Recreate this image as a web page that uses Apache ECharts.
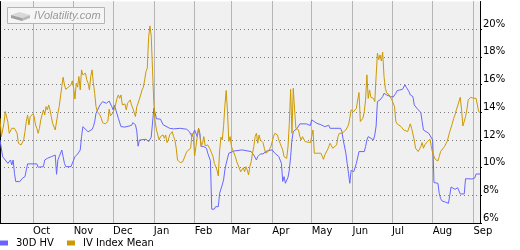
<!DOCTYPE html>
<html>
<head>
<meta charset="utf-8">
<script src="https://cdn.jsdelivr.net/npm/echarts@6/dist/echarts.min.js"></script>
<style>
  html, body { margin: 0; padding: 0; background: #ffffff; }
  #chart { width: 520px; height: 250px; }
</style>
</head>
<body>
<div id="chart"></div>
<script>
// ---- Data ----
const startDate = '2010-09-06';
const endDate = '2011-09-06';
const monthNames = ['Jan','Feb','Mar','Apr','May','Jun','Jul','Aug','Sep','Oct','Nov','Dec'];
const yTicks = [6, 8, 10, 12, 14, 16, 18, 20];
const seriesNames = ['30D HV', 'IV Index Mean'];

const hvDates = ['2010-09-06','2010-09-07','2010-09-08','2010-09-10','2010-09-12','2010-09-14','2010-09-15','2010-09-16','2010-09-17','2010-09-18','2010-09-21','2010-09-23','2010-09-25','2010-09-26','2010-09-27','2010-10-04','2010-10-05','2010-10-09','2010-10-10','2010-10-12','2010-10-15','2010-10-16','2010-10-18','2010-10-19','2010-10-20','2010-10-21','2010-10-23','2010-10-24','2010-10-25','2010-10-26','2010-10-30','2010-10-31','2010-11-02','2010-11-04','2010-11-06','2010-11-07','2010-11-08','2010-11-09','2010-11-12','2010-11-15','2010-11-16','2010-11-17','2010-11-18','2010-11-21','2010-11-23','2010-11-26','2010-11-28','2010-11-30','2010-12-01','2010-12-02','2010-12-05','2010-12-07','2010-12-10','2010-12-15','2010-12-16','2010-12-18','2010-12-19','2010-12-20','2010-12-21','2010-12-26','2010-12-28','2010-12-30','2011-01-01','2011-01-03','2011-01-06','2011-01-08','2011-01-09','2011-01-13','2011-01-16','2011-01-21','2011-01-26','2011-01-28','2011-01-30','2011-01-31','2011-02-01','2011-02-03','2011-02-04','2011-02-05','2011-02-06','2011-02-08','2011-02-10','2011-02-11','2011-02-13','2011-02-14','2011-02-16','2011-02-17','2011-02-19','2011-02-20','2011-02-22','2011-02-23','2011-02-24','2011-02-25','2011-02-27','2011-02-28','2011-03-03','2011-03-09','2011-03-16','2011-03-18','2011-03-20','2011-03-21','2011-03-23','2011-03-25','2011-03-27','2011-03-29','2011-04-01','2011-04-02','2011-04-03','2011-04-04','2011-04-06','2011-04-07','2011-04-08','2011-04-09','2011-04-10','2011-04-11','2011-04-12','2011-04-13','2011-04-14','2011-04-15','2011-04-16','2011-04-17','2011-04-20','2011-04-21','2011-04-22','2011-04-27','2011-04-30','2011-05-01','2011-05-02','2011-05-05','2011-05-08','2011-05-11','2011-05-14','2011-05-15','2011-05-16','2011-05-23','2011-05-24','2011-05-25','2011-05-27','2011-05-28','2011-05-29','2011-05-30','2011-05-31','2011-06-02','2011-06-03','2011-06-04','2011-06-06','2011-06-07','2011-06-10','2011-06-11','2011-06-12','2011-06-13','2011-06-15','2011-06-17','2011-06-18','2011-06-19','2011-06-20','2011-06-22','2011-06-24','2011-06-25','2011-06-27','2011-06-30','2011-07-02','2011-07-04','2011-07-05','2011-07-07','2011-07-09','2011-07-11','2011-07-12','2011-07-14','2011-07-15','2011-07-17','2011-07-18','2011-07-20','2011-07-23','2011-07-24','2011-07-25','2011-07-29','2011-07-30','2011-08-01','2011-08-02','2011-08-05','2011-08-06','2011-08-07','2011-08-08','2011-08-11','2011-08-13','2011-08-14','2011-08-15','2011-08-16','2011-08-18','2011-08-20','2011-08-21','2011-08-22','2011-08-25','2011-08-26','2011-08-31','2011-09-02','2011-09-03','2011-09-06'];
const hvValues = [12.0,11.88,10.79,10.55,10.31,10.55,10.19,10.55,9.59,8.99,8.99,9.23,9.35,9.83,10.27,10.27,10.03,10.07,10.55,10.67,10.79,10.67,10.91,9.52,10.55,10.79,11.27,10.79,10.31,10.07,10.07,10.19,10.79,10.98,11.27,12.23,12.96,12.84,12.59,12.76,12.96,13.32,13.92,14.52,14.76,14.65,14.81,14.41,14.17,14.52,13.56,12.96,12.93,13.05,13.25,13.1,12.65,11.55,11.99,12.05,11.88,12.2,14.3,13.53,13.5,13.1,12.96,12.84,12.8,12.84,12.77,12.6,12.24,12.36,12.72,12.24,12.84,12.48,11.52,11.52,11.4,11.04,10.5,7.0,7.0,7.18,7.18,8.14,8.75,9.1,9.83,10.3,11.04,11.16,11.2,11.28,11.16,10.9,10.55,10.8,10.99,10.99,11.16,11.23,11.28,11.28,11.04,10.92,10.8,10.67,10.31,9.0,9.35,8.87,8.75,9.3,9.83,10.8,12.0,12.6,12.84,13.0,13.16,13.16,13.04,13.45,13.33,13.2,13.1,12.96,13.06,12.84,12.88,12.84,12.6,12.0,11.04,10.31,9.59,8.87,9.8,9.71,9.83,10.31,11.16,11.23,11.16,11.52,12.0,12.24,12.12,12.0,12.36,13.0,14.77,14.89,15.13,15.37,15.25,15.13,15.1,15.37,15.56,15.61,15.65,15.98,15.8,15.49,15.25,15.13,14.53,14.29,13.98,13.33,12.72,12.48,12.36,12.0,8.92,8.87,8.14,7.78,7.6,7.5,7.42,8.0,8.6,8.51,8.43,8.55,8.5,8.1,8.1,9.2,9.18,9.25,9.54,9.54];

const ivDates = ['2010-09-06','2010-09-07','2010-09-09','2010-09-10','2010-09-11','2010-09-12','2010-09-13','2010-09-15','2010-09-17','2010-09-19','2010-09-20','2010-09-22','2010-09-24','2010-09-25','2010-09-26','2010-09-27','2010-09-28','2010-09-29','2010-09-30','2010-10-01','2010-10-02','2010-10-03','2010-10-04','2010-10-05','2010-10-06','2010-10-07','2010-10-09','2010-10-10','2010-10-11','2010-10-12','2010-10-13','2010-10-14','2010-10-15','2010-10-16','2010-10-18','2010-10-19','2010-10-20','2010-10-21','2010-10-22','2010-10-23','2010-10-24','2010-10-25','2010-10-26','2010-10-28','2010-10-30','2010-10-31','2010-11-01','2010-11-02','2010-11-03','2010-11-04','2010-11-05','2010-11-06','2010-11-07','2010-11-08','2010-11-09','2010-11-10','2010-11-11','2010-11-12','2010-11-13','2010-11-14','2010-11-15','2010-11-16','2010-11-17','2010-11-18','2010-11-19','2010-11-21','2010-11-22','2010-11-23','2010-11-25','2010-11-27','2010-11-28','2010-11-29','2010-12-01','2010-12-02','2010-12-03','2010-12-04','2010-12-05','2010-12-06','2010-12-07','2010-12-08','2010-12-10','2010-12-11','2010-12-12','2010-12-14','2010-12-15','2010-12-16','2010-12-18','2010-12-19','2010-12-20','2010-12-21','2010-12-22','2010-12-23','2010-12-24','2010-12-25','2010-12-26','2010-12-27','2010-12-28','2010-12-29','2010-12-30','2010-12-31','2011-01-01','2011-01-02','2011-01-03','2011-01-04','2011-01-05','2011-01-06','2011-01-08','2011-01-09','2011-01-10','2011-01-11','2011-01-12','2011-01-13','2011-01-15','2011-01-16','2011-01-17','2011-01-18','2011-01-19','2011-01-20','2011-01-21','2011-01-22','2011-01-23','2011-01-25','2011-01-26','2011-01-27','2011-01-29','2011-01-30','2011-01-31','2011-02-01','2011-02-02','2011-02-03','2011-02-04','2011-02-05','2011-02-06','2011-02-07','2011-02-08','2011-02-09','2011-02-11','2011-02-12','2011-02-13','2011-02-14','2011-02-15','2011-02-16','2011-02-18','2011-02-19','2011-02-20','2011-02-21','2011-02-22','2011-02-23','2011-02-24','2011-02-25','2011-02-26','2011-02-27','2011-02-28','2011-03-01','2011-03-02','2011-03-03','2011-03-04','2011-03-05','2011-03-06','2011-03-08','2011-03-09','2011-03-10','2011-03-11','2011-03-12','2011-03-13','2011-03-14','2011-03-15','2011-03-16','2011-03-17','2011-03-18','2011-03-19','2011-03-20','2011-03-21','2011-03-22','2011-03-23','2011-03-24','2011-03-25','2011-03-26','2011-03-27','2011-03-28','2011-03-29','2011-03-30','2011-03-31','2011-04-01','2011-04-02','2011-04-03','2011-04-05','2011-04-06','2011-04-07','2011-04-08','2011-04-09','2011-04-10','2011-04-12','2011-04-13','2011-04-14','2011-04-15','2011-04-16','2011-04-17','2011-04-18','2011-04-19','2011-04-20','2011-04-21','2011-04-22','2011-04-23','2011-04-24','2011-04-26','2011-04-27','2011-04-30','2011-05-01','2011-05-02','2011-05-03','2011-05-04','2011-05-05','2011-05-06','2011-05-08','2011-05-09','2011-05-10','2011-05-11','2011-05-13','2011-05-14','2011-05-15','2011-05-16','2011-05-17','2011-05-18','2011-05-20','2011-05-21','2011-05-22','2011-05-24','2011-05-25','2011-05-27','2011-05-28','2011-05-29','2011-05-30','2011-05-31','2011-06-01','2011-06-02','2011-06-03','2011-06-04','2011-06-05','2011-06-06','2011-06-07','2011-06-08','2011-06-09','2011-06-10','2011-06-11','2011-06-12','2011-06-13','2011-06-14','2011-06-15','2011-06-16','2011-06-17','2011-06-18','2011-06-19','2011-06-20','2011-06-21','2011-06-22','2011-06-23','2011-06-24','2011-06-25','2011-06-26','2011-06-27','2011-06-29','2011-06-30','2011-07-01','2011-07-02','2011-07-03','2011-07-04','2011-07-05','2011-07-06','2011-07-08','2011-07-09','2011-07-10','2011-07-11','2011-07-13','2011-07-14','2011-07-15','2011-07-16','2011-07-17','2011-07-18','2011-07-19','2011-07-20','2011-07-21','2011-07-22','2011-07-23','2011-07-24','2011-07-25','2011-07-26','2011-07-28','2011-07-29','2011-07-30','2011-07-31','2011-08-01','2011-08-02','2011-08-03','2011-08-04','2011-08-05','2011-08-06','2011-08-07','2011-08-08','2011-08-10','2011-08-11','2011-08-12','2011-08-13','2011-08-14','2011-08-16','2011-08-17','2011-08-18','2011-08-19','2011-08-20','2011-08-21','2011-08-22','2011-08-23','2011-08-24','2011-08-25','2011-08-26','2011-08-27','2011-08-28','2011-08-29','2011-08-30','2011-08-31','2011-09-01','2011-09-03','2011-09-04','2011-09-05','2011-09-06'];
const ivValues = [13.57,12.24,13.2,14.05,14.17,13.3,12.48,12.84,12.84,12.48,11.76,11.64,12.0,12.6,13.33,13.8,13.08,13.69,13.8,13.88,13.69,13.08,12.84,12.48,12.84,13.45,14.17,13.81,14.41,14.17,14.53,14.17,13.69,13.2,12.72,12.72,13.93,14.41,14.46,15.86,16.53,15.98,15.66,15.81,15.98,16.27,15.74,14.96,16.1,15.81,16.58,15.61,17.06,16.7,16.58,16.82,16.34,16.1,15.61,16.58,17.06,16.1,15.37,14.41,14.05,13.81,13.57,13.25,13.16,13.33,14.22,13.74,13.98,14.29,14.6,15.01,15.25,15.01,15.25,14.53,14.6,14.17,14.65,14.89,14.53,14.29,13.69,14.41,14.65,14.77,15.25,15.61,15.81,16.34,16.94,17.18,19.4,20.24,19.5,17.0,14.6,13.3,12.72,12.36,12.0,12.24,12.36,12.12,12.36,11.81,12.0,12.36,12.6,12.24,12.0,11.4,10.55,10.43,10.36,10.31,10.43,10.92,11.16,11.16,11.4,12.48,12.24,10.84,11.52,12.24,12.84,12.24,11.52,11.76,12.24,11.57,11.64,11.52,11.28,11.16,10.79,10.31,9.83,9.4,11.2,12.2,12.0,12.96,14.5,15.57,14.0,11.9,12.24,11.52,11.28,11.16,10.79,10.43,10.2,9.7,9.59,10.0,9.71,10.07,9.83,9.47,10.07,10.43,11.04,11.52,12.24,12.48,11.76,12.36,12.0,11.88,11.81,11.4,11.04,11.04,11.16,11.16,11.52,11.88,12.24,12.48,12.36,12.0,11.76,11.52,11.28,10.79,10.67,11.5,13.2,15.66,12.48,15.73,14.2,12.84,12.96,12.72,12.24,12.0,12.24,11.88,11.81,11.81,12.24,12.72,11.04,10.99,11.04,10.92,11.04,10.92,10.6,10.92,11.28,11.52,11.76,11.88,11.4,11.28,11.64,12.24,12.48,12.48,12.6,12.72,12.84,13.08,13.57,14.17,14.05,14.05,13.93,14.29,14.89,15.42,13.33,13.4,13.57,14.05,14.89,16.7,15.0,15.61,15.08,15.08,15.0,14.77,16.6,18.27,17.8,18.14,17.7,18.34,16.6,15.73,15.4,15.25,15.13,14.89,14.89,14.41,13.33,13.16,13.08,12.96,12.84,12.72,12.6,12.6,12.72,13.16,12.84,12.72,12.0,11.4,11.28,11.16,11.04,11.52,11.81,11.4,11.64,11.88,12.0,12.05,11.52,11.04,11.16,10.6,10.55,10.48,10.79,11.16,11.28,11.52,11.71,11.88,12.0,12.6,13.2,13.57,13.81,14.17,14.46,14.6,15.08,14.17,13.01,13.33,13.69,14.17,14.89,14.77,15.08,15.13,15.01,15.01,14.53,14.05,13.98];

// ---- Build calendar-day categories for the axis domain ----
function pad(n) { return n < 10 ? '0' + n : '' + n; }
function buildDays(from, to) {
  const out = [];
  const d = new Date(from + 'T00:00:00Z');
  const end = new Date(to + 'T00:00:00Z');
  while (d <= end) {
    out.push(d.getUTCFullYear() + '-' + pad(d.getUTCMonth() + 1) + '-' + pad(d.getUTCDate()));
    d.setUTCDate(d.getUTCDate() + 1);
  }
  return out;
}
const categories = buildDays(startDate, endDate);
const isMonthStart = (idx) => {
  const c = categories[idx];
  return !!c && c.slice(8) === '01';
};

const hvData = hvDates.map((d, i) => [d, hvValues[i]]);
const ivData = ivDates.map((d, i) => [d, ivValues[i]]);

const FONT = 'DejaVu Sans';
const LOGO_Z = 100;

const chart = echarts.init(document.getElementById('chart'), null, { renderer: 'canvas' });
chart.setOption({
  animation: false,
  backgroundColor: '#ffffff',
  grid: {
    left: 0, right: 40, top: 1.5, bottom: 27,
    show: false
  },
  legend: {
    left: 0, top: 238, padding: 0,
    itemWidth: 8, itemHeight: 5, itemGap: 13,
    icon: 'rect',
    textStyle: { fontFamily: FONT, fontSize: 10, color: '#000', padding: [0, 0, 0, 3] },
    data: seriesNames
  },
  xAxis: {
    type: 'category',
    data: categories,
    boundaryGap: false,
    z: 3,
    axisLine: { show: true, lineStyle: { color: '#000', width: 1 } },
    axisTick: { show: false },
    axisLabel: {
      interval: isMonthStart,
      formatter: (v) => monthNames[parseInt(v.slice(5, 7), 10) - 1],
      align: 'left',
      margin: 3,
      fontFamily: FONT, fontSize: 10, color: '#000'
    },
    splitLine: { show: true, interval: isMonthStart,
      lineStyle: { color: '#7a7a7a', width: 1, type: 'dotted' } }
  },
  yAxis: [{
    type: 'value',
    position: 'right',
    min: yTicks[0], max: 22, interval: 2,
    z: 2,
    axisLine: { show: true, lineStyle: { color: '#000', width: 1 } },
    axisTick: { show: true, length: 2, lineStyle: { color: '#000' } },
    axisLabel: {
      showMaxLabel: false,
      formatter: (v) => v + '%',
      margin: 3,
      verticalAlign: 'bottom',
      fontFamily: FONT, fontSize: 10, color: '#000'
    },
    splitArea: { show: true, areaStyle: { color: ['#F0F0F0'] } },
    splitLine: { show: true, showMinLine: false, showMaxLine: false,
      lineStyle: { color: '#7a7a7a', width: 1, type: [1, 3] } }
  }, {
    type: 'value',
    position: 'left',
    min: yTicks[0], max: 22, interval: 2,
    z: 3,
    axisLine: { show: true, lineStyle: { color: '#000', width: 1 } },
    axisTick: { show: false },
    axisLabel: { show: false },
    splitLine: { show: false }
  }],
  series: [{
    name: seriesNames[0],
    type: 'line',
    data: hvData,
    showSymbol: false,
    z: 5,
    lineStyle: { color: '#6666FF', width: 1 },
    itemStyle: { color: '#6666FF' }
  }, {
    name: seriesNames[1],
    type: 'line',
    data: ivData,
    showSymbol: false,
    z: 6,
    lineStyle: { color: '#CC9900', width: 1 },
    itemStyle: { color: '#CC9900' }
  }],
  graphic: [{
    type: 'group', left: 7, top: 7,
    children: [
      { type: 'rect', z: LOGO_Z, shape: { x: 0.5, y: 0.5, width: 97, height: 16 },
        style: { fill: '#F5F5F5', stroke: '#B4B4B4', lineWidth: 1 } },
      { type: 'polygon', z: LOGO_Z, shape: { points: [[4, 8], [12, 5], [23, 8], [15, 11]] },
        style: { fill: '#D8D8D8' } },
      { type: 'polygon', z: LOGO_Z, shape: { points: [[4, 8], [15, 11], [15, 14], [4, 11]] },
        style: { fill: '#A0A0A0' } },
      { type: 'polygon', z: LOGO_Z, shape: { points: [[15, 11], [23, 8], [23, 11], [15, 14]] },
        style: { fill: '#B8B8B8' } },
      { type: 'text', z: LOGO_Z, x: 27, y: 3,
        style: { text: 'IVolatility.com', fill: '#999999',
          font: 'italic 11px "Liberation Sans"' } }
    ]
  }]
});
</script>
</body>
</html>
